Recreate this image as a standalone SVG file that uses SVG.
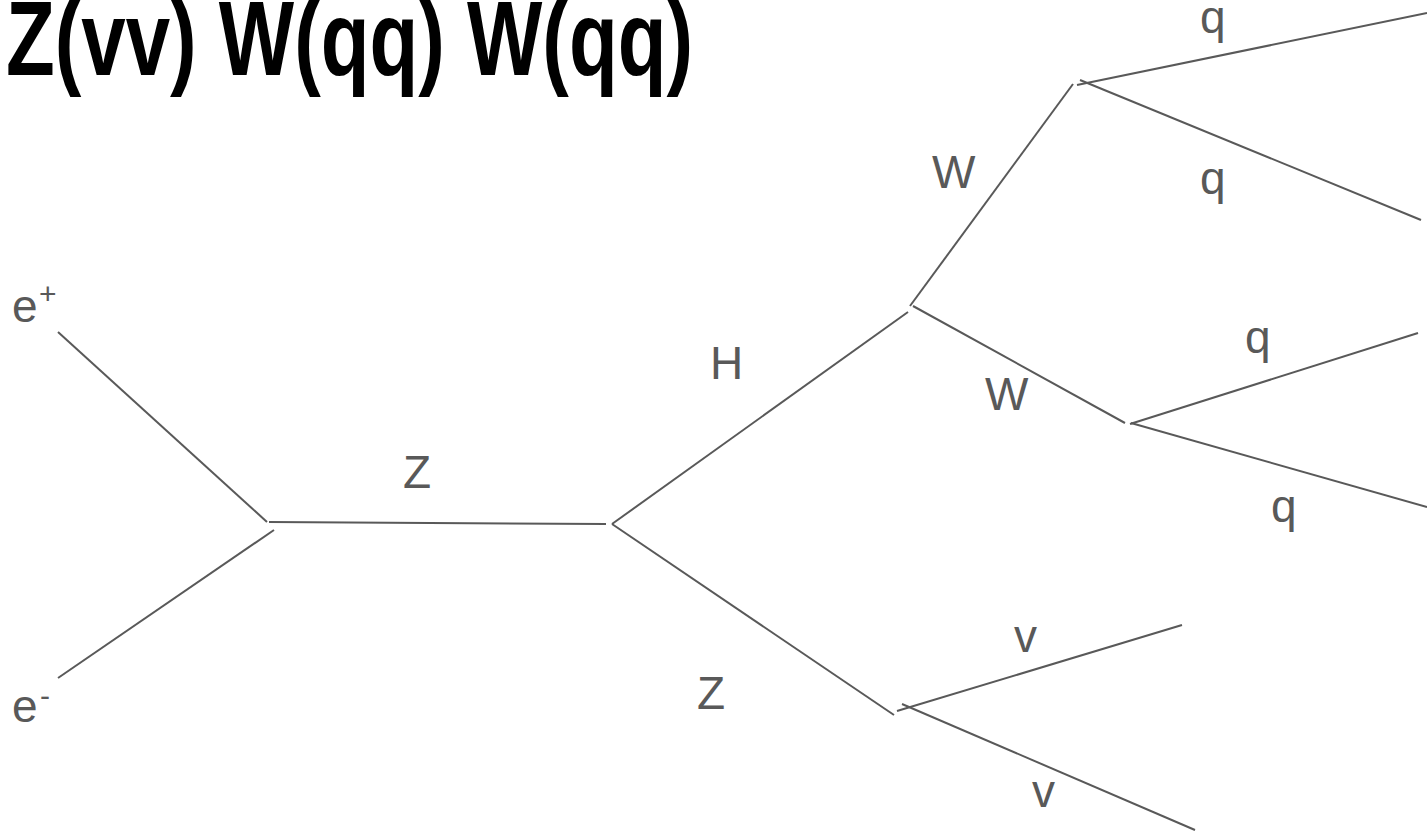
<svg xmlns="http://www.w3.org/2000/svg" width="1427" height="832" viewBox="0 0 1427 832">
<style>
.t{font-family:"Liberation Sans",Arial,sans-serif;font-size:46px;fill:#595959}
.sup{font-family:"Liberation Sans",Arial,sans-serif;font-size:30px;fill:#595959}
.title{font-family:"Liberation Sans",Arial,sans-serif;font-size:106px;font-weight:bold;fill:#000}
.ln{stroke:#595959;stroke-width:2;fill:none}
</style>
<rect width="1427" height="832" fill="#fff"/>
<text id="title" class="title" x="6" y="75" textLength="687" lengthAdjust="spacingAndGlyphs">Z(vv) W(qq) W(qq)</text>
<g id="connectors">
<line class="ln" x1="58" y1="332" x2="267" y2="522"/>
<line class="ln" x1="58" y1="678" x2="274" y2="530"/>
<line class="ln" x1="269" y1="522" x2="606" y2="524"/>
<line class="ln" x1="612" y1="524" x2="908" y2="312"/>
<line class="ln" x1="612" y1="524" x2="894" y2="715"/>
<line class="ln" x1="910" y1="306" x2="1073" y2="84"/>
<line class="ln" x1="913" y1="306" x2="1125" y2="423"/>
<line class="ln" x1="1077" y1="85" x2="1427" y2="13"/>
<line class="ln" x1="1080" y1="80" x2="1421" y2="220"/>
<line class="ln" x1="1130" y1="424" x2="1418" y2="333"/>
<line class="ln" x1="1131" y1="423" x2="1427" y2="507"/>
<line class="ln" x1="897" y1="711" x2="1182" y2="625"/>
<line class="ln" x1="902" y1="704" x2="1195" y2="830"/>
</g>
<g id="e-plus"><text class="t" x="12" y="322">e</text><text class="sup" x="39" y="304">+</text></g>
<g id="e-minus"><text class="t" x="12" y="722">e</text><text class="sup" x="40" y="706">-</text></g>
<g id="label-Z1"><text class="t" x="403" y="488">Z</text></g>
<g id="label-H"><text class="t" x="710" y="379">H</text></g>
<g id="label-Z2"><text class="t" x="697" y="709">Z</text></g>
<g id="label-W1"><text class="t" x="932" y="188">W</text></g>
<g id="label-W2"><text class="t" x="985" y="410">W</text></g>
<g id="label-q1"><text class="t" x="1200" y="33">q</text></g>
<g id="label-q2"><text class="t" x="1200" y="194">q</text></g>
<g id="label-q3"><text class="t" x="1245" y="353">q</text></g>
<g id="label-q4"><text class="t" x="1271" y="522">q</text></g>
<g id="label-v1"><text class="t" x="1014" y="652">v</text></g>
<g id="label-v2"><text class="t" x="1032" y="807">v</text></g>
</svg>
